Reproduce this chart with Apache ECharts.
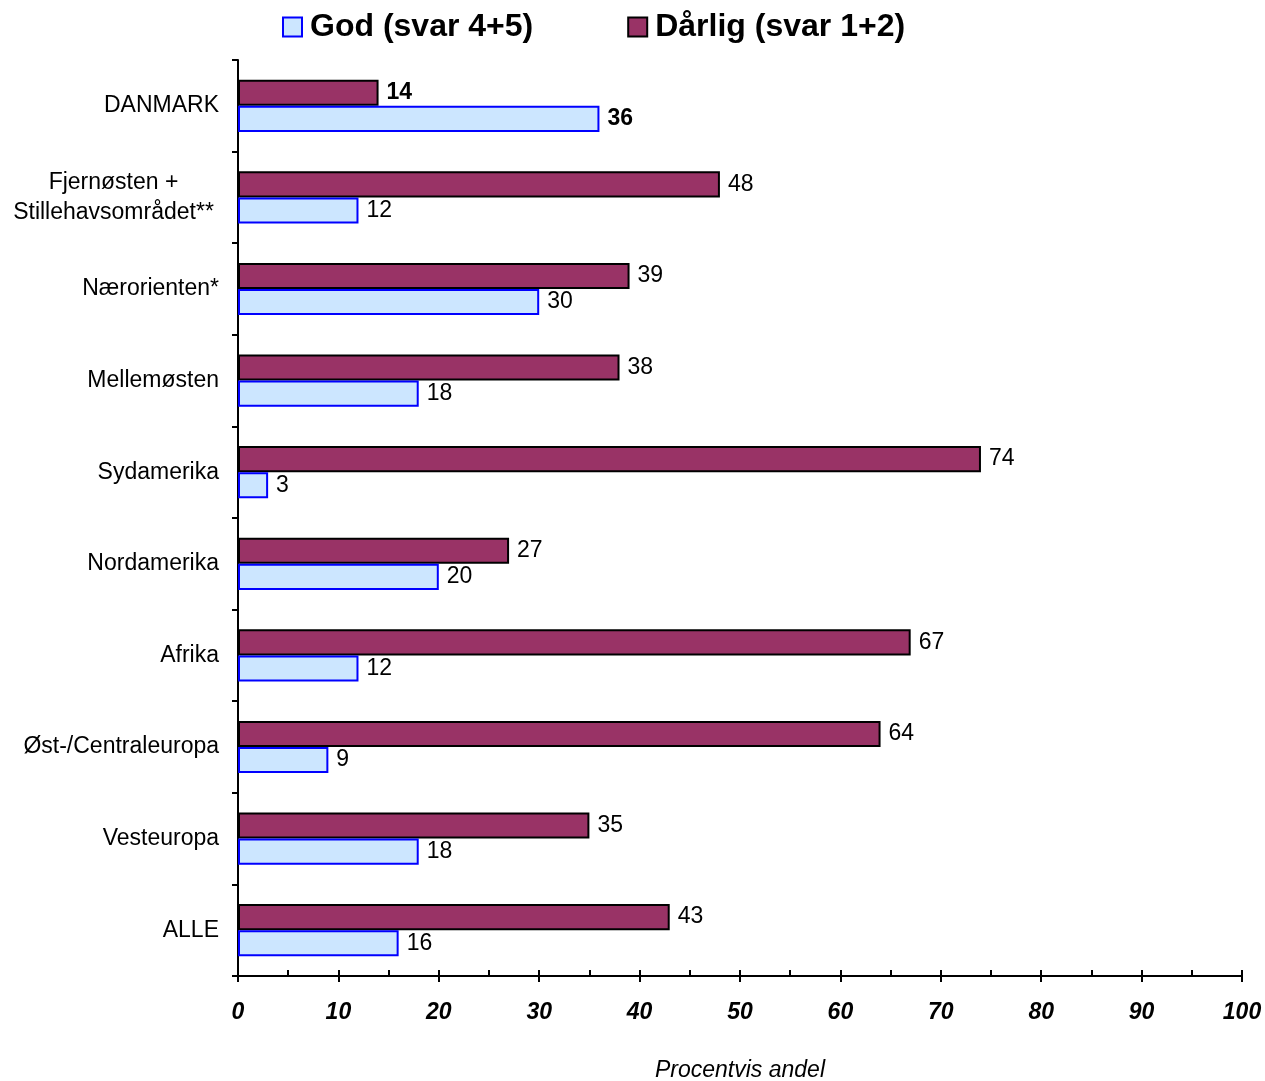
<!DOCTYPE html>
<html>
<head>
<meta charset="utf-8">
<script src="https://cdn.jsdelivr.net/npm/echarts@6/dist/echarts.min.js"></script>
<style>html,body{margin:0;padding:0;background:#fff;overflow:hidden;}#c{width:1265px;height:1081px;}</style>
</head>
<body>
<div id="c"></div>
<script>
const categories = ["DANMARK", "Fjernøsten +\nStillehavsområdet**", "Nærorienten*", "Mellemøsten", "Sydamerika", "Nordamerika", "Afrika", "Øst-/Centraleuropa", "Vesteuropa", "ALLE"];
const godValues = [36, 12, 30, 18, 3, 20, 12, 9, 18, 16];
const darligValues = [14, 48, 39, 38, 74, 27, 67, 64, 35, 43];
const seriesNames = ["God (svar 4+5)", "Dårlig (svar 1+2)"];
const xTicks = [0, 10, 20, 30, 40, 50, 60, 70, 80, 90, 100];
const xAxisName = "Procentvis andel";

const FONT = "Liberation Sans, Arial, sans-serif";
function mk(vals) {
  return vals.map((v, i) => i === 0 ? { value: v, label: { fontWeight: 'bold' } } : v);
}
const chart = echarts.init(document.getElementById('c'), null, { renderer: 'canvas', width: 1265, height: 1081 });
const xMin = xTicks[0], xMax = xTicks[xTicks.length - 1];
chart.setOption({
  animation: false,
  backgroundColor: '#fff',
  legend: {
    top: 6, left: 277,
    icon: 'rect',
    itemWidth: 19, itemHeight: 19, itemGap: 94,
    textStyle: { fontFamily: FONT, fontSize: 32, fontWeight: 'bold', color: '#000', padding: [0, 0, 0, 3] },
    data: seriesNames
  },
  grid: { left: 238, width: 1004, top: 60, height: 916, containLabel: false, outerBoundsMode: 'none' },
  xAxis: [{
    type: 'value', min: xMin, max: xMax, interval: 10,
    name: xAxisName, nameLocation: 'middle', nameGap: 83,
    nameTextStyle: { fontFamily: FONT, fontSize: 23, fontStyle: 'italic', color: '#000' },
    axisLine: { show: true, lineStyle: { color: '#000', width: 2 } },
    axisTick: { show: true, length: 6, lineStyle: { color: '#000', width: 2 } },
    splitLine: { show: false },
    axisLabel: { fontFamily: FONT, fontSize: 23, fontStyle: 'italic', fontWeight: 'bold', color: '#000', margin: 25 }
  }, {
    type: 'value', min: xMin, max: xMax, interval: 10, position: 'bottom',
    axisLine: { show: false },
    axisTick: { show: true, inside: true, length: 6, lineStyle: { color: '#000', width: 2 } },
    minorTick: { show: true, splitNumber: 2, length: 6, lineStyle: { color: '#000', width: 2 } },
    splitLine: { show: false },
    axisLabel: { show: false }
  }],
  yAxis: {
    type: 'category', data: categories, inverse: true,
    axisLine: { show: true, lineStyle: { color: '#000', width: 2 } },
    axisTick: { show: true, length: 6, lineStyle: { color: '#000', width: 2 } },
    axisLabel: {
      fontFamily: FONT, fontSize: 23, color: '#000', margin: 19, align: 'right', lineHeight: 30,
      formatter: v => v.indexOf('\n') >= 0 ? v.split('\n').map(s => '{c|' + s + '}').join('\n') : v,
      rich: { c: { width: 211, align: 'center', fontFamily: FONT, fontSize: 23, color: '#000', lineHeight: 30 } }
    },
  },
  series: [
    {
      name: seriesNames[1], type: 'bar', data: mk(darligValues),
      barGap: '0%', barCategoryGap: '43%',
      itemStyle: { color: '#993366', borderColor: '#000', borderWidth: 2 },
      label: { show: true, position: 'right', distance: 8, fontFamily: FONT, fontSize: 23, color: '#000' }
    },
    {
      name: seriesNames[0], type: 'bar', data: mk(godValues),
      barGap: '0%', barCategoryGap: '43%',
      itemStyle: { color: '#cce6ff', borderColor: '#0000ff', borderWidth: 2 },
      label: { show: true, position: 'right', distance: 8, fontFamily: FONT, fontSize: 23, color: '#000' }
    }
  ]
});
</script>
</body>
</html>
